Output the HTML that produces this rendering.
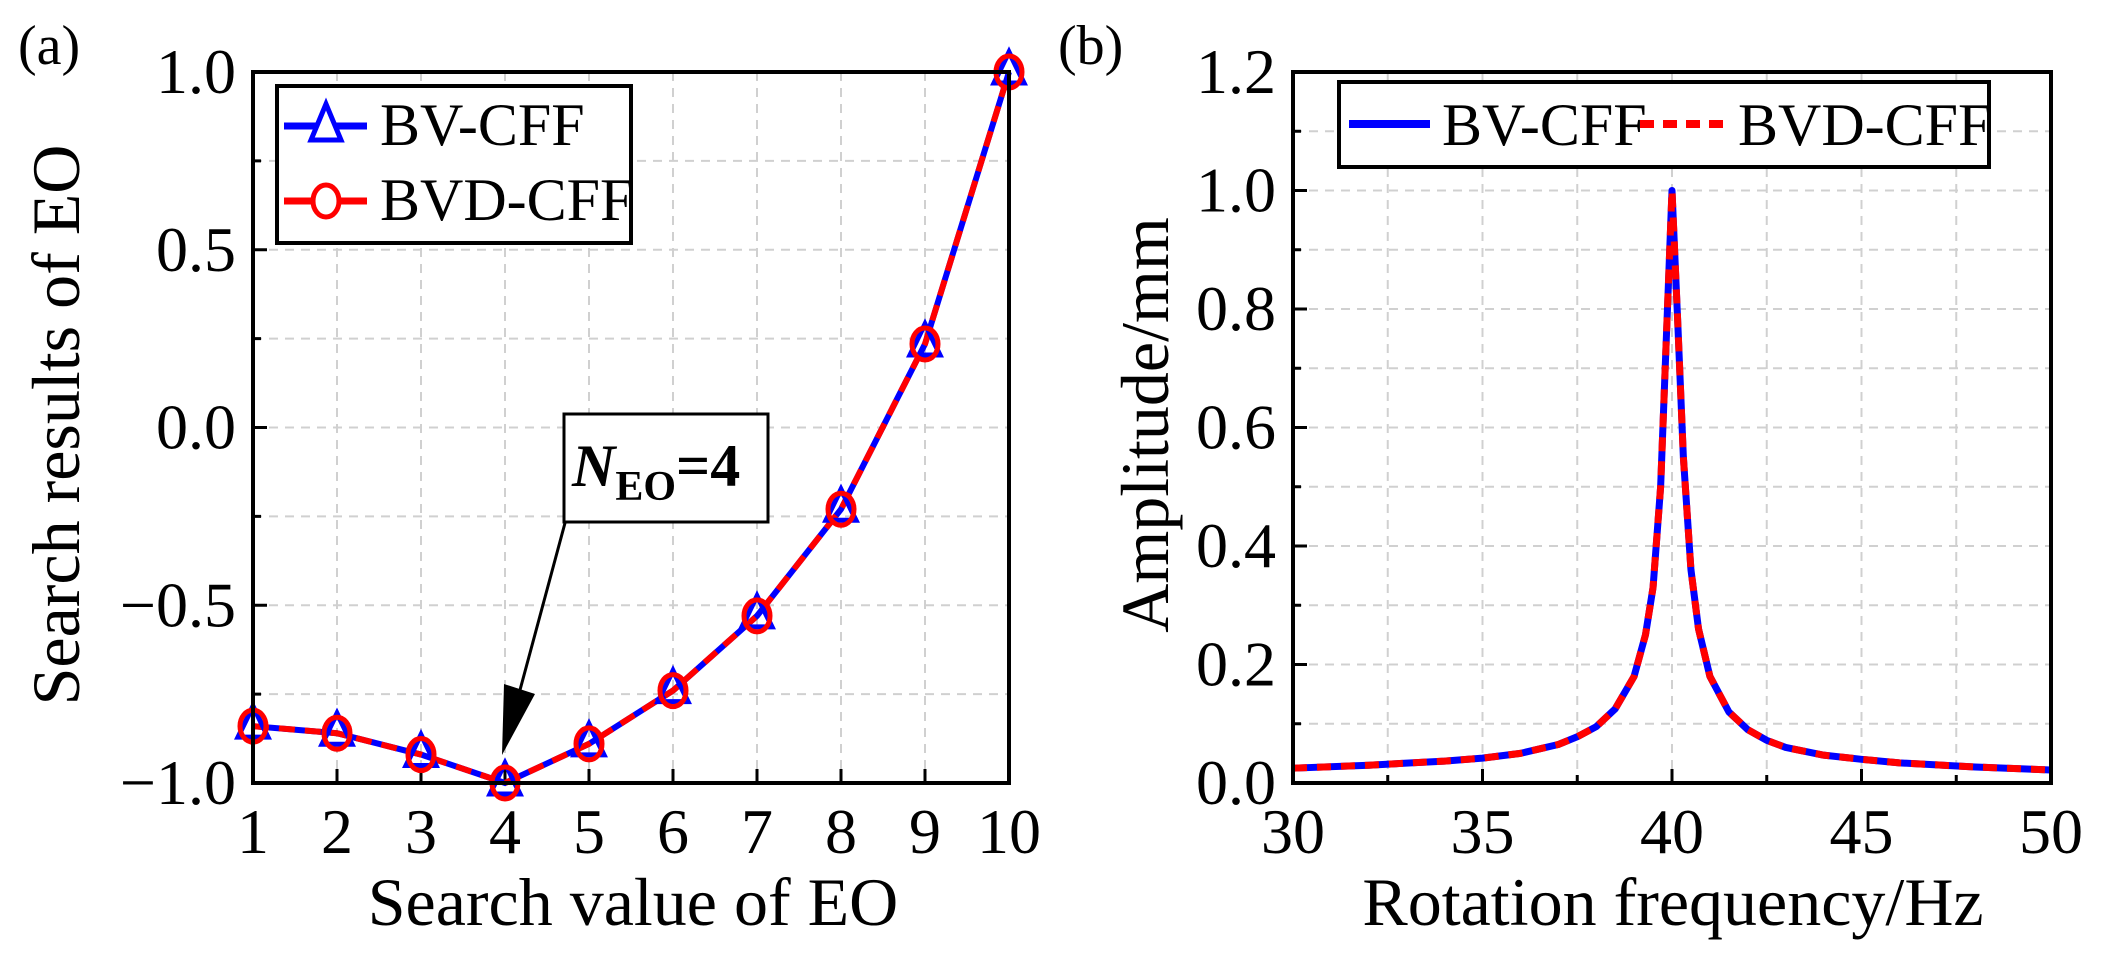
<!DOCTYPE html>
<html><head><meta charset="utf-8">
<style>
html,body{margin:0;padding:0;background:#fff;}
svg{display:block;}
svg text{font-family:"Liberation Serif","Times New Roman",serif !important;}
</style></head>
<body>
<svg id="fig" width="2103" height="973" viewBox="0 0 2103 973" xmlns="http://www.w3.org/2000/svg" font-family="Liberation Serif, serif">
<g id="pa"></g>
<g id="pb"></g>
</svg>
<script>
// Panel (a) data
const eoValues = [1,2,3,4,5,6,7,8,9,10];
const bvResults = [-0.84,-0.86,-0.92,-1.0,-0.89,-0.74,-0.53,-0.23,0.235,1.0];
const bvdResults = [-0.84,-0.86,-0.92,-1.0,-0.89,-0.74,-0.53,-0.23,0.235,1.0];
const aYTicks = [-1.0,-0.5,0.0,0.5,1.0];
const aYTickLabels = ["\u22121.0","\u22120.5","0.0","0.5","1.0"];
const aXTicks = [1,2,3,4,5,6,7,8,9,10];
// Panel (b) data
const freq = [30,32,34,35,36,37,37.5,38,38.5,39,39.3,39.5,39.7,39.85,40,40.15,40.3,40.5,40.7,41,41.5,42,42.5,43,44,45,46,48,50];
const bvAmp = [0.025,0.03,0.037,0.042,0.05,0.065,0.078,0.095,0.125,0.18,0.25,0.33,0.5,0.75,1.0,0.78,0.55,0.36,0.26,0.18,0.12,0.09,0.072,0.06,0.047,0.04,0.034,0.027,0.022];
const bvdAmp = [0.025,0.03,0.037,0.042,0.05,0.065,0.078,0.095,0.125,0.18,0.25,0.33,0.5,0.75,1.0,0.78,0.55,0.36,0.26,0.18,0.12,0.09,0.072,0.06,0.047,0.04,0.034,0.027,0.022];
const bYTicks = [0,0.2,0.4,0.6,0.8,1.0,1.2];
const bYTickLabels = ["0.0","0.2","0.4","0.6","0.8","1.0","1.2"];
const bXTicks = [30,35,40,45,50];

const NS="http://www.w3.org/2000/svg";
function mk(parent,tag,attrs,text){
  const e=document.createElementNS(NS,tag);
  for(const k in attrs) e.setAttribute(k,attrs[k]);
  if(tag==='text') e.setAttribute('font-family','Liberation Serif, Times New Roman, serif');
  if(text!==undefined) e.textContent=text;
  parent.appendChild(e);return e;
}
const A={l:253,r:1009,t:72,b:783};
const ax=v=>A.l+(v-1)/9*(A.r-A.l);
const ay=v=>A.b-(v+1)/2*(A.b-A.t);
const B={l:1293,r:2051,t:72,b:783};
const bx=v=>B.l+(v-30)/20*(B.r-B.l);
const by=v=>B.b-v/1.2*(B.b-B.t);

const pa=document.getElementById('pa');
const pb=document.getElementById('pb');

const gA=mk(pa,'g',{});


for(let v=-0.75;v<1;v+=0.25){mk(gA,'line',{x1:A.l,x2:A.r,y1:ay(v),y2:ay(v),stroke:'#d0d0d0','stroke-width':2,'stroke-dasharray':'9,7'});}
aXTicks.slice(1,-1).forEach(v=>mk(gA,'line',{x1:ax(v),x2:ax(v),y1:A.t,y2:A.b,stroke:'#d0d0d0','stroke-width':2,'stroke-dasharray':'9,7'}));
const tA=mk(pa,'g',{stroke:'#000','stroke-width':3});


for(let v=-1;v<=1.001;v+=0.25){const major=Math.abs(v*2-Math.round(v*2))<1e-6;mk(tA,'line',{x1:A.l,x2:A.l+(major?14:8),y1:ay(v),y2:ay(v)});}
aXTicks.forEach(v=>mk(tA,'line',{x1:ax(v),x2:ax(v),y1:A.b,y2:A.b-14}));
aYTicks.forEach((v,i)=>{const t=mk(pa,'text',{x:236,y:ay(v)+21,'font-size':64,'text-anchor':'end'},aYTickLabels[i]);

});
aXTicks.forEach(v=>{const t=mk(pa,'text',{x:ax(v),y:853,'font-size':64,'text-anchor':'middle'},String(v));

});
const ptsBV=eoValues.map((x,i)=>ax(x)+','+ay(bvResults[i])).join(' ');
const ptsBVD=eoValues.map((x,i)=>ax(x)+','+ay(bvdResults[i])).join(' ');
const lBV=mk(pa,'polyline',{points:ptsBV,fill:'none',stroke:'#0000ff','stroke-width':6});


const lBVD=mk(pa,'polyline',{points:ptsBVD,fill:'none',stroke:'#ff0000','stroke-width':6,'stroke-dasharray':'16,10'});


eoValues.forEach((x,i)=>{const cx=ax(x),cy=ay(bvResults[i]);
 const m=mk(pa,'polygon',{points:`${cx},${cy-20} ${cx-15},${cy+11} ${cx+15},${cy+11}`,fill:'none',stroke:'#0000ff','stroke-width':5});
 
 });
eoValues.forEach((x,i)=>{
 const c=mk(pa,'ellipse',{cx:ax(x),cy:ay(bvdResults[i]),rx:13,ry:16,fill:'none',stroke:'#ff0000','stroke-width':5});
 
 });
const fA=mk(pa,'rect',{x:A.l,y:A.t,width:A.r-A.l,height:A.b-A.t,fill:'none',stroke:'#000','stroke-width':4});


const lgA=mk(pa,'g',{});


mk(lgA,'rect',{x:277,y:86,width:354,height:157,fill:'#fff',stroke:'#000','stroke-width':4});
mk(lgA,'line',{x1:284,x2:367,y1:126,y2:126,stroke:'#0000ff','stroke-width':7});
mk(lgA,'polygon',{points:'326,104 311,140 341,140',fill:'#fff',stroke:'#0000ff','stroke-width':5});
mk(lgA,'text',{x:380,y:145,'font-size':60},'BV-CFF');
mk(lgA,'line',{x1:284,x2:367,y1:201,y2:201,stroke:'#ff0000','stroke-width':7});
mk(lgA,'ellipse',{cx:326,cy:201,rx:13,ry:16,fill:'#fff',stroke:'#ff0000','stroke-width':5});
mk(lgA,'text',{x:380,y:220,'font-size':60},'BVD-CFF');
const an=mk(pa,'g',{});


mk(an,'rect',{x:564,y:414,width:204,height:108,fill:'#fff',stroke:'#000','stroke-width':3});
const at=mk(an,'text',{x:572,y:486,'font-size':60,'font-weight':'bold'});
mk(at,'tspan',{'font-style':'italic'},'N');
mk(at,'tspan',{'font-size':42,dy:14},'EO');
mk(at,'tspan',{dy:-14},'=4');
mk(an,'line',{x1:565,y1:523,x2:520,y2:690,stroke:'#000','stroke-width':3});
mk(an,'polygon',{points:`${ax(4)-3},${ay(-1.0)-28} 504,684 535,694`,fill:'#000'});
const ytA=mk(pa,'text',{x:0,y:0,'font-size':68,'text-anchor':'middle',transform:'translate(79,425) rotate(-90)'},'Search results of EO');


const xtA=mk(pa,'text',{x:633,y:925,'font-size':68,'text-anchor':'middle'},'Search value of EO');


const la=mk(pa,'text',{x:18,y:64,'font-size':56},'(a)');



const gB=mk(pb,'g',{});


for(let v=0.1;v<1.19;v+=0.1){mk(gB,'line',{x1:B.l,x2:B.r,y1:by(v),y2:by(v),stroke:'#d0d0d0','stroke-width':2,'stroke-dasharray':'9,7'});}
for(let v=32.5;v<50;v+=2.5){mk(gB,'line',{x1:bx(v),x2:bx(v),y1:B.t,y2:B.b,stroke:'#d0d0d0','stroke-width':2,'stroke-dasharray':'9,7'});}
const tB=mk(pb,'g',{stroke:'#000','stroke-width':3});


for(let i=0;i<=12;i++){const v=i/10;mk(tB,'line',{x1:B.l,x2:B.l+(i%2==0?14:8),y1:by(v),y2:by(v)});}
for(let i=0;i<=8;i++){const v=30+i*2.5;mk(tB,'line',{x1:bx(v),x2:bx(v),y1:B.b,y2:B.b-(i%2==0?14:8)});}
bYTicks.forEach((v,i)=>{const t=mk(pb,'text',{x:1276,y:by(v)+21,'font-size':64,'text-anchor':'end'},bYTickLabels[i]);

});
bXTicks.forEach(v=>{const t=mk(pb,'text',{x:bx(v),y:853,'font-size':64,'text-anchor':'middle'},String(v));

});
const cBV=mk(pb,'polyline',{points:freq.map((f,i)=>bx(f)+','+by(bvAmp[i])).join(' '),fill:'none',stroke:'#0000ff','stroke-width':7,'stroke-linejoin':'round'});


const cBVD=mk(pb,'polyline',{points:freq.map((f,i)=>bx(f)+','+by(bvdAmp[i])).join(' '),fill:'none',stroke:'#ff0000','stroke-width':7,'stroke-dasharray':'14,10'});


const fB=mk(pb,'rect',{x:B.l,y:B.t,width:B.r-B.l,height:B.b-B.t,fill:'none',stroke:'#000','stroke-width':4});


const lgB=mk(pb,'g',{});


mk(lgB,'rect',{x:1339,y:82,width:650,height:85,fill:'#fff',stroke:'#000','stroke-width':4});
mk(lgB,'line',{x1:1349,x2:1430,y1:124,y2:124,stroke:'#0000ff','stroke-width':8});
mk(lgB,'text',{x:1442,y:145,'font-size':60},'BV-CFF');
mk(lgB,'line',{x1:1640,x2:1726,y1:124,y2:124,stroke:'#ff0000','stroke-width':8,'stroke-dasharray':'14,9'});
mk(lgB,'text',{x:1738,y:145,'font-size':60},'BVD-CFF');
const ytB=mk(pb,'text',{x:0,y:0,'font-size':68,'text-anchor':'middle',transform:'translate(1168,425) rotate(-90)'},'Amplitude/mm');


const xtB=mk(pb,'text',{x:1673,y:925,'font-size':68,'text-anchor':'middle'},'Rotation frequency/Hz');


const lb=mk(pb,'text',{x:1058,y:64,'font-size':56},'(b)');


</script>
</body></html>
